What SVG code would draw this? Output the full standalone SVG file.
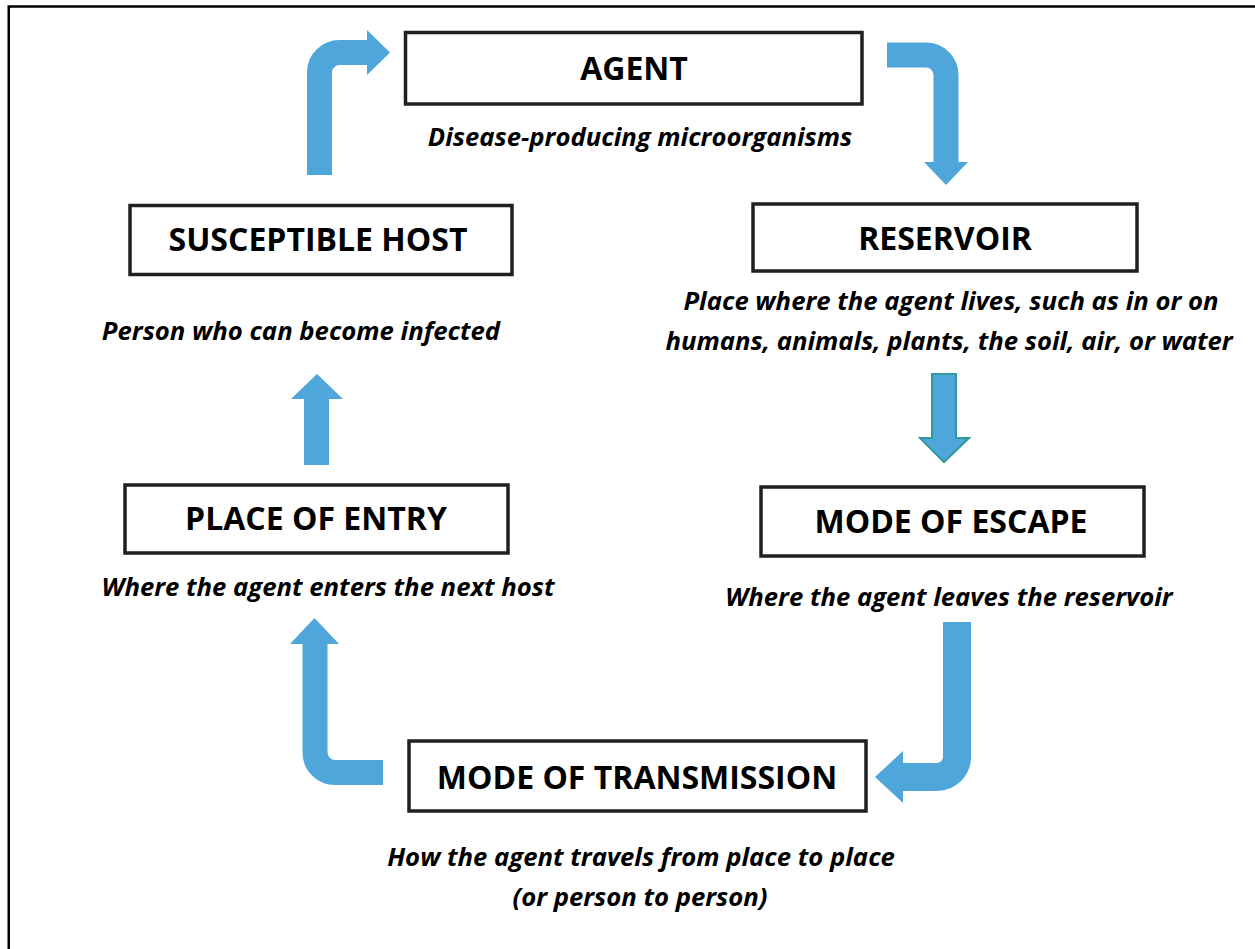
<svg xmlns="http://www.w3.org/2000/svg" width="1255" height="949" viewBox="0 0 1255 949">
<style>
.box{fill:#fff;stroke:#231f20;stroke-width:3.5}
.t{font-family:"Open Sans","Liberation Sans",sans-serif;font-weight:bold;font-size:32px;fill:#000;text-anchor:middle}
.s{font-family:"Open Sans","Liberation Sans",sans-serif;font-weight:bold;font-style:italic;font-size:25.7px;fill:#000;text-anchor:middle}
.stem{fill:none;stroke:#4ea6da;stroke-width:25}
.head{fill:#4ea6da}
</style>
<rect x="0" y="0" width="1255" height="949" fill="#fff"/>
<rect x="8.75" y="6.5" width="1270" height="960" fill="none" stroke="#000" stroke-width="2.5"/>
<g id="connectors">
<path class="stem" d="M319.5,175 V72.5 A20,20 0 0 1 339.5,52.5 H368"/>
<polygon class="head" points="367,30 390,52.5 367,75"/>
<path class="stem" d="M887,55 H926 A20,20 0 0 1 946,75 V163"/>
<polygon class="head" points="924,162 968,162 946,185"/>
<polygon points="932,374 956,374 956,438 969,438 944,462 920,438 932,438" fill="#4ea6da" stroke="#2e9a9a" stroke-width="2"/>
<path class="stem" style="stroke-width:28" d="M957,622 V757 A20,20 0 0 1 937,777 H902"/>
<polygon class="head" points="903,751 903,803 875,777"/>
<polygon class="head" points="304,465 329,465 329,399 343,399 317,374 291,399 304,399"/>
<path class="stem" d="M383,772.5 H335 A20,20 0 0 1 315,752.5 V643"/>
<polygon class="head" points="290,644 339,644 314.5,618"/>
</g>
<g id="agent">
<rect class="box" x="405.5" y="32.5" width="456.5" height="71.5"/>
<text class="t" x="634" y="80">AGENT</text>
<text class="s" x="640" y="146">Disease-producing microorganisms</text>
</g>
<g id="reservoir">
<rect class="box" x="753" y="204" width="384" height="67"/>
<text class="t" x="945" y="250">RESERVOIR</text>
<text class="s" x="951" y="310">Place where the agent lives, such as in or on</text>
<text class="s" x="949" y="350">humans, animals, plants, the soil, air, or water</text>
</g>
<g id="mode-of-escape">
<rect class="box" x="761" y="487" width="383" height="69"/>
<text class="t" x="951" y="533">MODE OF ESCAPE</text>
<text class="s" x="949" y="606">Where the agent leaves the reservoir</text>
</g>
<g id="mode-of-transmission">
<rect class="box" x="409" y="741" width="457" height="70"/>
<text class="t" x="637" y="789">MODE OF TRANSMISSION</text>
<text class="s" x="641" y="866">How the agent travels from place to place</text>
<text class="s" x="640" y="906">(or person to person)</text>
</g>
<g id="place-of-entry">
<rect class="box" x="125" y="485" width="383" height="68"/>
<text class="t" x="316" y="530">PLACE OF ENTRY</text>
<text class="s" x="328" y="596">Where the agent enters the next host</text>
</g>
<g id="susceptible-host">
<rect class="box" x="130" y="205.5" width="382" height="69"/>
<text class="t" x="318" y="251">SUSCEPTIBLE HOST</text>
<text class="s" x="301" y="340">Person who can become infected</text>
</g>
</svg>
